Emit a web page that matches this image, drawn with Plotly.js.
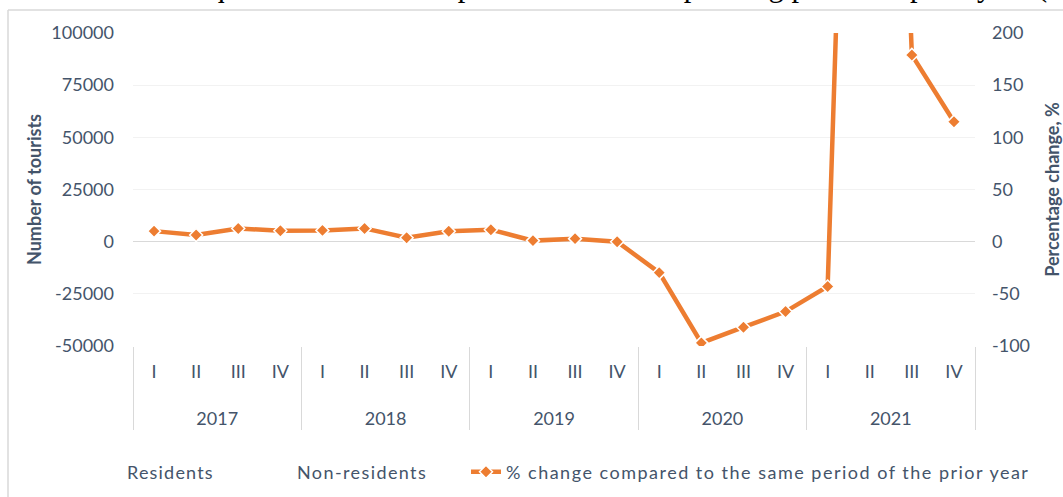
<!DOCTYPE html>
<html>
<head>
<meta charset="utf-8">
<script src="https://cdn.plot.ly/plotly-3.0.1.min.js"></script>
<style>
html,body{margin:0;padding:0;background:#fff;}
#chart{width:1063px;height:497px;}
.legendtext{letter-spacing:1.2px;}
.legend2text{letter-spacing:1.4px;}
.legend3text{letter-spacing:1.5px;}
</style>
</head>
<body>
<div id="chart"></div>
<script>
// ---- data ----
const years = ['2017', '2018', '2019', '2020', '2021'];
const quarters = ['I', 'II', 'III', 'IV'];
const residents = [0, 0, 0, 0, 0, 0, 0, 0, 0, 0, 0, 0, 0, 0, 0, 0, 0, 0, 0, 0];
const nonResidents = [0, 0, 0, 0, 0, 0, 0, 0, 0, 0, 0, 0, 0, 0, 0, 0, 0, 0, 0, 0];
const pctChange = [10.1, 6.3, 12.7, 10.5, 10.8, 12.7, 3.8, 9.9, 11.5, 1.0, 2.9, 0.0,
                   -29.7, -97, -82, -67, -43, 1200, 179, 115];
const leftTickVals = [-50000, -25000, 0, 25000, 50000, 75000, 100000];
const leftTickText = ['-50000', '-25000', '0', '25000', '50000', '75000', '100000'];
const rightTickVals = [-100, -50, 0, 50, 100, 150, 200];
const rightTickText = ['-100', '-50', '0', '50', '100', '150', '200'];
const captionText = 'in the second quarter of 2021 compared to the corresponding period of prior year (';

// multicategory x built from categories (year labels set one line lower)
const xYears = [], xQuarters = [];
years.forEach(y => quarters.forEach(q => { xYears.push('<br>' + y); xQuarters.push(q); }));
const xCats = [xYears, xQuarters];

const textColor = '#44546a';
const fontFam = 'Lato, "Open Sans", sans-serif';
const FS = 18;

// plot area in pixels
const W = 1063, H = 497;
const L = 133, R = 975, T = 33, B = 346;
const px = v => (v - L) / (R - L);
const py = v => (B - v) / (B - T);

const traces = [
  {type: 'bar', name: 'Residents', x: xCats, y: residents,
   marker: {color: 'rgba(0,0,0,0)'}, legend: 'legend', hoverinfo: 'skip'},
  {type: 'bar', name: 'Non-residents', x: xCats, y: nonResidents,
   marker: {color: 'rgba(0,0,0,0)'}, legend: 'legend2', hoverinfo: 'skip'},
  {type: 'scatter', mode: 'lines+markers',
   name: '% change compared to the same period of the prior year',
   x: xCats, y: pctChange, yaxis: 'y2', legend: 'legend3',
   line: {color: '#ed7d31', width: 4.5},
   marker: {symbol: 'diamond', size: 10, color: '#ed7d31', line: {color: '#ffffff', width: 1.5}}}
];

const legendBase = {orientation: 'h', xanchor: 'left', yanchor: 'middle',
  xref: 'container', yref: 'container',
  bgcolor: 'rgba(0,0,0,0)', font: {family: fontFam, size: FS, color: textColor}};
const cy = 1 - 472 / H;

const layout = {
  width: W, height: H,
  margin: {l: L, r: W - R, t: T, b: H - B, pad: 0},
  paper_bgcolor: '#ffffff', plot_bgcolor: '#ffffff',
  font: {family: fontFam, size: FS, color: textColor},
  barmode: 'group',
  showlegend: true,
  legend: Object.assign({}, legendBase, {x: 87 / W, y: cy}),
  legend2: Object.assign({}, legendBase, {x: 257 / W, y: cy}),
  legend3: Object.assign({}, legendBase, {x: 466 / W, y: cy}),
  xaxis: {
    type: 'multicategory',
    range: [-0.5, 19.5], autorange: false, automargin: false,
    showgrid: false, zeroline: false, showline: false,
    tickson: 'labels', ticks: 'outside', ticklen: 9, tickcolor: 'rgba(0,0,0,0)',
    showdividers: true, dividercolor: '#d9d9d9', dividerwidth: 1,
    tickfont: {family: fontFam, size: FS, color: textColor}
  },
  yaxis: {
    range: [-50000, 100000], tickvals: leftTickVals, ticktext: leftTickText,
    automargin: false,
    showgrid: true, gridcolor: '#f2f2f2', gridwidth: 1,
    zeroline: true, zerolinecolor: '#d9d9d9', zerolinewidth: 1,
    showline: false, ticks: '', ticklabelstandoff: 18,
    tickfont: {family: fontFam, size: FS, color: textColor},
    title: {text: '<b>Number of tourists</b>', standoff: 5,
            font: {family: fontFam, size: FS, color: textColor}}
  },
  yaxis2: {
    overlaying: 'y', side: 'right', automargin: false,
    range: [-100, 200], tickvals: rightTickVals, ticktext: rightTickText,
    showgrid: false, zeroline: false, showline: false, ticks: '', ticklabelstandoff: 16,
    tickfont: {family: fontFam, size: FS, color: textColor},
    title: {text: '<b>Percentage change, %</b>', standoff: 24,
            font: {family: fontFam, size: FS, color: textColor}}
  },
  shapes: [
    {type: 'line', xref: 'paper', yref: 'paper', x0: px(8), x1: px(8), y0: py(10), y1: py(500),
     line: {color: '#d9d9d9', width: 1.5}},
    {type: 'line', xref: 'paper', yref: 'paper', x0: px(8), x1: px(1070), y0: py(10), y1: py(10),
     line: {color: '#d9d9d9', width: 1.5}}
  ],
  annotations: [
    {text: captionText, xref: 'paper', yref: 'paper', x: px(1049), y: py(5),
     xanchor: 'right', yanchor: 'bottom', showarrow: false,
     font: {family: '"Liberation Serif", "Times New Roman", serif', size: 30.5, color: '#000000'}}
  ]
};

Plotly.newPlot('chart', traces, layout, {displayModeBar: false, staticPlot: true});
</script>
</body>
</html>
